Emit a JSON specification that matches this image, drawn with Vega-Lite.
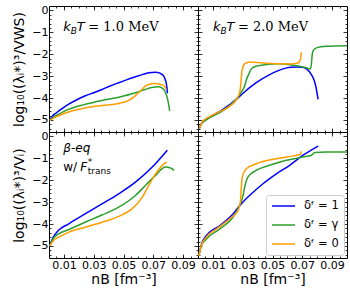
{
"$schema":"https://vega.github.io/schema/vega-lite/v6.json",
"padding":{"left":12,"top":3,"right":0,"bottom":0},
"background":"white",
"columns":2,"spacing":0,"bounds":"flush",
"resolve":{"scale":{"color":"independent"},"legend":{"color":"independent"}},
"datasets":{
"tl":[
{"s":"1","x":0.0005,"y":-5.02},{"s":"1","x":0.002,"y":-4.85},{"s":"1","x":0.005,"y":-4.67},{"s":"1","x":0.009,"y":-4.47},{"s":"1","x":0.013,"y":-4.29},{"s":"1","x":0.018,"y":-4.1},{"s":"1","x":0.024,"y":-3.91},{"s":"1","x":0.03,"y":-3.76},{"s":"1","x":0.0355,"y":-3.61},{"s":"1","x":0.041,"y":-3.45},{"s":"1","x":0.0468,"y":-3.3},{"s":"1","x":0.052,"y":-3.17},{"s":"1","x":0.058,"y":-3.03},{"s":"1","x":0.063,"y":-2.92},{"s":"1","x":0.067,"y":-2.85},{"s":"1","x":0.0715,"y":-2.82},{"s":"1","x":0.074,"y":-2.85},{"s":"1","x":0.076,"y":-2.93},{"s":"1","x":0.077,"y":-3.0},{"s":"1","x":0.078,"y":-3.15},{"s":"1","x":0.079,"y":-3.45},{"s":"1","x":0.0795,"y":-3.78},
{"s":"γ","x":0.0005,"y":-5.02},{"s":"γ","x":0.003,"y":-4.87},{"s":"γ","x":0.0062,"y":-4.75},{"s":"γ","x":0.013,"y":-4.52},{"s":"γ","x":0.0242,"y":-4.29},{"s":"γ","x":0.0355,"y":-4.11},{"s":"γ","x":0.0468,"y":-3.96},{"s":"γ","x":0.058,"y":-3.76},{"s":"γ","x":0.064,"y":-3.62},{"s":"γ","x":0.069,"y":-3.52},{"s":"γ","x":0.0738,"y":-3.49},{"s":"γ","x":0.076,"y":-3.55},{"s":"γ","x":0.077,"y":-3.61},{"s":"γ","x":0.0785,"y":-3.8},{"s":"γ","x":0.0794,"y":-3.99},{"s":"γ","x":0.0803,"y":-4.3},{"s":"γ","x":0.081,"y":-4.59},
{"s":"0","x":0.0005,"y":-5.02},{"s":"0","x":0.003,"y":-4.92},{"s":"0","x":0.0062,"y":-4.82},{"s":"0","x":0.013,"y":-4.64},{"s":"0","x":0.024,"y":-4.45},{"s":"0","x":0.0355,"y":-4.34},{"s":"0","x":0.0468,"y":-4.25},{"s":"0","x":0.0535,"y":-4.11},{"s":"0","x":0.057,"y":-3.95},{"s":"0","x":0.06,"y":-3.76},{"s":"0","x":0.0625,"y":-3.6},{"s":"0","x":0.0648,"y":-3.45},{"s":"0","x":0.0675,"y":-3.37},{"s":"0","x":0.0704,"y":-3.34},{"s":"0","x":0.0749,"y":-3.38},{"s":"0","x":0.077,"y":-3.42},{"s":"0","x":0.0785,"y":-3.6}
],
"tr":[
{"s":"1","x":0.0008,"y":-5.4},{"s":"1","x":0.002,"y":-5.2},{"s":"1","x":0.004,"y":-5.05},{"s":"1","x":0.0078,"y":-4.88},{"s":"1","x":0.0167,"y":-4.52},{"s":"1","x":0.0257,"y":-4.06},{"s":"1","x":0.0302,"y":-3.78},{"s":"1","x":0.0391,"y":-3.3},{"s":"1","x":0.0481,"y":-2.93},{"s":"1","x":0.0571,"y":-2.67},{"s":"1","x":0.062,"y":-2.6},{"s":"1","x":0.066,"y":-2.58},{"s":"1","x":0.07,"y":-2.6},{"s":"1","x":0.0728,"y":-2.67},{"s":"1","x":0.0761,"y":-2.93},{"s":"1","x":0.078,"y":-3.2},{"s":"1","x":0.079,"y":-3.45},{"s":"1","x":0.0806,"y":-4.06},
{"s":"γ","x":0.0008,"y":-5.4},{"s":"γ","x":0.002,"y":-5.22},{"s":"γ","x":0.0055,"y":-5.0},{"s":"γ","x":0.0145,"y":-4.67},{"s":"γ","x":0.0235,"y":-4.21},{"s":"γ","x":0.0284,"y":-3.8},{"s":"γ","x":0.0313,"y":-3.45},{"s":"γ","x":0.0329,"y":-3.08},{"s":"γ","x":0.0345,"y":-2.85},{"s":"γ","x":0.0358,"y":-2.67},{"s":"γ","x":0.0385,"y":-2.56},{"s":"γ","x":0.0414,"y":-2.52},{"s":"γ","x":0.0526,"y":-2.44},{"s":"γ","x":0.0638,"y":-2.5},{"s":"γ","x":0.0728,"y":-2.62},{"s":"γ","x":0.0752,"y":-2.68},{"s":"γ","x":0.0758,"y":-2.6},{"s":"γ","x":0.0763,"y":-2.3},{"s":"γ","x":0.0768,"y":-1.94},{"s":"γ","x":0.078,"y":-1.78},{"s":"γ","x":0.0795,"y":-1.71},{"s":"γ","x":0.0862,"y":-1.64},{"s":"γ","x":0.1,"y":-1.61},
{"s":"0","x":0.0008,"y":-5.4},{"s":"0","x":0.0033,"y":-5.05},{"s":"0","x":0.0078,"y":-4.85},{"s":"0","x":0.0145,"y":-4.62},{"s":"0","x":0.0212,"y":-4.38},{"s":"0","x":0.0257,"y":-4.08},{"s":"0","x":0.0279,"y":-3.76},{"s":"0","x":0.0287,"y":-3.4},{"s":"0","x":0.029,"y":-3.15},{"s":"0","x":0.0293,"y":-2.9},{"s":"0","x":0.0297,"y":-2.7},{"s":"0","x":0.0313,"y":-2.44},{"s":"0","x":0.0346,"y":-2.35},{"s":"0","x":0.0436,"y":-2.4},{"s":"0","x":0.0526,"y":-2.43},{"s":"0","x":0.0615,"y":-2.45},{"s":"0","x":0.0672,"y":-2.4},{"s":"0","x":0.0687,"y":-2.24},{"s":"0","x":0.0694,"y":-1.91}
],
"bl":[
{"s":"1","x":0.0005,"y":-5.0},{"s":"1","x":0.0028,"y":-4.61},{"s":"1","x":0.0062,"y":-4.3},{"s":"1","x":0.013,"y":-4.0},{"s":"1","x":0.0242,"y":-3.54},{"s":"1","x":0.0355,"y":-3.08},{"s":"1","x":0.0468,"y":-2.62},{"s":"1","x":0.058,"y":-2.09},{"s":"1","x":0.0693,"y":-1.4},{"s":"1","x":0.0794,"y":-0.63},
{"s":"γ","x":0.0005,"y":-5.0},{"s":"γ","x":0.003,"y":-4.65},{"s":"γ","x":0.0062,"y":-4.46},{"s":"γ","x":0.013,"y":-4.26},{"s":"γ","x":0.0242,"y":-3.92},{"s":"γ","x":0.0355,"y":-3.59},{"s":"γ","x":0.0468,"y":-3.23},{"s":"γ","x":0.058,"y":-2.7},{"s":"γ","x":0.0647,"y":-2.24},{"s":"γ","x":0.0715,"y":-1.78},{"s":"γ","x":0.0782,"y":-1.4},{"s":"γ","x":0.0816,"y":-1.44},{"s":"γ","x":0.0839,"y":-1.55},
{"s":"0","x":0.0005,"y":-5.0},{"s":"0","x":0.003,"y":-4.75},{"s":"0","x":0.0062,"y":-4.61},{"s":"0","x":0.013,"y":-4.38},{"s":"0","x":0.0242,"y":-4.15},{"s":"0","x":0.0355,"y":-3.92},{"s":"0","x":0.0468,"y":-3.65},{"s":"0","x":0.0557,"y":-3.31},{"s":"0","x":0.0625,"y":-2.78},{"s":"0","x":0.067,"y":-2.24},{"s":"0","x":0.0715,"y":-1.71},{"s":"0","x":0.0772,"y":-1.25},{"s":"0","x":0.079,"y":-1.18}
],
"br":[
{"s":"1","x":0.0006,"y":-5.45},{"s":"1","x":0.0022,"y":-4.95},{"s":"1","x":0.0055,"y":-4.53},{"s":"1","x":0.0145,"y":-4.08},{"s":"1","x":0.0235,"y":-3.54},{"s":"1","x":0.029,"y":-3.08},{"s":"1","x":0.0346,"y":-2.7},{"s":"1","x":0.0436,"y":-2.16},{"s":"1","x":0.0526,"y":-1.71},{"s":"1","x":0.0615,"y":-1.32},{"s":"1","x":0.0705,"y":-0.86},{"s":"1","x":0.0806,"y":-0.44},
{"s":"γ","x":0.0006,"y":-5.45},{"s":"γ","x":0.0022,"y":-5.0},{"s":"γ","x":0.0055,"y":-4.69},{"s":"γ","x":0.0145,"y":-4.23},{"s":"γ","x":0.0235,"y":-3.69},{"s":"γ","x":0.0284,"y":-3.08},{"s":"γ","x":0.0302,"y":-2.7},{"s":"γ","x":0.0313,"y":-2.32},{"s":"γ","x":0.0335,"y":-1.86},{"s":"γ","x":0.0391,"y":-1.55},{"s":"γ","x":0.0481,"y":-1.32},{"s":"γ","x":0.0593,"y":-1.09},{"s":"γ","x":0.0705,"y":-0.94},{"s":"γ","x":0.0761,"y":-0.86},{"s":"γ","x":0.0784,"y":-0.74},{"s":"γ","x":0.0862,"y":-0.71},{"s":"γ","x":0.1,"y":-0.71},
{"s":"0","x":0.0006,"y":-5.45},{"s":"0","x":0.0022,"y":-4.99},{"s":"0","x":0.0055,"y":-4.61},{"s":"0","x":0.0122,"y":-4.23},{"s":"0","x":0.0212,"y":-3.77},{"s":"0","x":0.0268,"y":-3.39},{"s":"0","x":0.0284,"y":-3.0},{"s":"0","x":0.029,"y":-2.39},{"s":"0","x":0.0297,"y":-1.86},{"s":"0","x":0.0324,"y":-1.48},{"s":"0","x":0.0391,"y":-1.25},{"s":"0","x":0.0526,"y":-1.02},{"s":"0","x":0.0638,"y":-0.89},{"s":"0","x":0.0687,"y":-0.83},{"s":"0","x":0.0694,"y":-0.68}
]
},
"concat":[
{"width":149,"height":126,
"resolve":{"axis":{"x":"independent","y":"independent"}},
"layer":[
{"data":{"name":"tl"},"mark":{"type":"line","interpolate":"monotone","clip":true},
"encoding":{"x":{"field":"x","type":"quantitative","scale":{"domain":[0,0.1],"nice":false,"zero":false},"axis":{"orient":"bottom","values":[0.01,0.03,0.05,0.07,0.09],"tickSize":-4,"labels":false,"title":null}},
"y":{"field":"y","type":"quantitative","scale":{"domain":[-5.55,0.2],"nice":false,"zero":false},"axis":{"orient":"left","values":[-5,-4,-3,-2,-1,0],"format":"d","tickSize":-4,"labelPadding":5,"title":"log₁₀((λᵢ*)³/VWS)","titlePadding":5}},
"color":{"field":"s","type":"nominal","scale":{"domain":["1","γ","0"],"range":["#0000ff","#2ca02c","#ff9c00"]},"legend":null}}},
{"data":{"values":[{"x":0.0096,"y":-0.78}]},"mark":{"type":"text","text":""},
"encoding":{"x":{"field":"x","type":"quantitative","scale":{"domain":[0,0.1],"nice":false,"zero":false},"axis":{"orient":"bottom","values":[0.005,0.01,0.015,0.02,0.025,0.03,0.035,0.04,0.045,0.05,0.055,0.06,0.065,0.07,0.075,0.08,0.085,0.09,0.095],"tickSize":-2,"labels":false,"title":null}},
"y":{"field":"y","type":"quantitative","scale":{"domain":[-5.55,0.2],"nice":false,"zero":false},"axis":{"orient":"left","values":[-5.4,-5.2,-4.8,-4.6,-4.4,-4.2,-3.8,-3.6,-3.4,-3.2,-2.8,-2.6,-2.4,-2.2,-1.8,-1.6,-1.4,-1.2,-0.8,-0.6,-0.4,-0.2],"tickSize":-2,"labels":false,"title":null}}}},
{"data":{"values":[{"x":0.0096,"y":-0.78}]},"mark":{"type":"text","text":""},
"encoding":{"x":{"field":"x","type":"quantitative","scale":{"domain":[0,0.1],"nice":false,"zero":false},"axis":{"orient":"top","values":[0.01,0.03,0.05,0.07,0.09],"tickSize":-4,"labels":false,"title":null}},
"y":{"field":"y","type":"quantitative","scale":{"domain":[-5.55,0.2],"nice":false,"zero":false},"axis":{"orient":"right","values":[-5,-4,-3,-2,-1,0],"tickSize":-4,"labels":false,"title":null}}}},
{"data":{"values":[{"x":0.0096,"y":-0.78}]},"mark":{"type":"text","text":""},
"encoding":{"x":{"field":"x","type":"quantitative","scale":{"domain":[0,0.1],"nice":false,"zero":false},"axis":{"orient":"top","values":[0.005,0.01,0.015,0.02,0.025,0.03,0.035,0.04,0.045,0.05,0.055,0.06,0.065,0.07,0.075,0.08,0.085,0.09,0.095],"tickSize":-2,"labels":false,"title":null}},
"y":{"field":"y","type":"quantitative","scale":{"domain":[-5.55,0.2],"nice":false,"zero":false},"axis":{"orient":"right","values":[-5.4,-5.2,-4.8,-4.6,-4.4,-4.2,-3.8,-3.6,-3.4,-3.2,-2.8,-2.6,-2.4,-2.2,-1.8,-1.6,-1.4,-1.2,-0.8,-0.6,-0.4,-0.2],"tickSize":-2,"labels":false,"title":null}}}},
{"data":{"values":[{"x":0.0096,"y":-0.78}]},"mark":{"type":"text","text":"k","font":"DejaVu Sans","fontStyle":"italic","fontSize":13,"align":"left","baseline":"middle","color":"black"},
"encoding":{"x":{"field":"x","type":"quantitative","axis":null},"y":{"field":"y","type":"quantitative","axis":null}}},
{"data":{"values":[{"x":0.0096,"y":-0.78}]},"mark":{"type":"text","text":"B","font":"DejaVu Sans","fontStyle":"italic","fontSize":9,"dx":7.5,"dy":4,"align":"left","baseline":"middle","color":"black"},
"encoding":{"x":{"field":"x","type":"quantitative","axis":null},"y":{"field":"y","type":"quantitative","axis":null}}},
{"data":{"values":[{"x":0.0096,"y":-0.78}]},"mark":{"type":"text","text":"T","font":"DejaVu Sans","fontStyle":"italic","fontSize":13,"dx":13.5,"align":"left","baseline":"middle","color":"black"},
"encoding":{"x":{"field":"x","type":"quantitative","axis":null},"y":{"field":"y","type":"quantitative","axis":null}}},
{"data":{"values":[{"x":0.0096,"y":-0.78}]},"mark":{"type":"text","text":"= 1.0 MeV","font":"DejaVu Serif","fontSize":13,"dx":25,"align":"left","baseline":"middle","color":"black"},
"encoding":{"x":{"field":"x","type":"quantitative","axis":null},"y":{"field":"y","type":"quantitative","axis":null}}}
]},
{"width":149,"height":126,
"resolve":{"axis":{"x":"independent","y":"independent"}},
"layer":[
{"data":{"name":"tr"},"mark":{"type":"line","interpolate":"monotone","clip":true},
"encoding":{"x":{"field":"x","type":"quantitative","scale":{"domain":[0,0.1],"nice":false,"zero":false},"axis":{"orient":"bottom","values":[0.01,0.03,0.05,0.07,0.09],"tickSize":-4,"labels":false,"title":null}},
"y":{"field":"y","type":"quantitative","scale":{"domain":[-5.55,0.2],"nice":false,"zero":false},"axis":{"orient":"left","values":[-5,-4,-3,-2,-1,0],"tickSize":-4,"labels":false,"title":null}},
"color":{"field":"s","type":"nominal","scale":{"domain":["1","γ","0"],"range":["#0000ff","#2ca02c","#ff9c00"]},"legend":null}}},
{"data":{"values":[{"x":0.010,"y":-0.78}]},"mark":{"type":"text","text":""},
"encoding":{"x":{"field":"x","type":"quantitative","scale":{"domain":[0,0.1],"nice":false,"zero":false},"axis":{"orient":"bottom","values":[0.005,0.01,0.015,0.02,0.025,0.03,0.035,0.04,0.045,0.05,0.055,0.06,0.065,0.07,0.075,0.08,0.085,0.09,0.095],"tickSize":-2,"labels":false,"title":null}},
"y":{"field":"y","type":"quantitative","scale":{"domain":[-5.55,0.2],"nice":false,"zero":false},"axis":{"orient":"left","values":[-5.4,-5.2,-4.8,-4.6,-4.4,-4.2,-3.8,-3.6,-3.4,-3.2,-2.8,-2.6,-2.4,-2.2,-1.8,-1.6,-1.4,-1.2,-0.8,-0.6,-0.4,-0.2],"tickSize":-2,"labels":false,"title":null}}}},
{"data":{"values":[{"x":0.010,"y":-0.78}]},"mark":{"type":"text","text":""},
"encoding":{"x":{"field":"x","type":"quantitative","scale":{"domain":[0,0.1],"nice":false,"zero":false},"axis":{"orient":"top","values":[0.01,0.03,0.05,0.07,0.09],"tickSize":-4,"labels":false,"title":null}},
"y":{"field":"y","type":"quantitative","scale":{"domain":[-5.55,0.2],"nice":false,"zero":false},"axis":{"orient":"right","values":[-5,-4,-3,-2,-1,0],"tickSize":-4,"labels":false,"title":null}}}},
{"data":{"values":[{"x":0.010,"y":-0.78}]},"mark":{"type":"text","text":""},
"encoding":{"x":{"field":"x","type":"quantitative","scale":{"domain":[0,0.1],"nice":false,"zero":false},"axis":{"orient":"top","values":[0.005,0.01,0.015,0.02,0.025,0.03,0.035,0.04,0.045,0.05,0.055,0.06,0.065,0.07,0.075,0.08,0.085,0.09,0.095],"tickSize":-2,"labels":false,"title":null}},
"y":{"field":"y","type":"quantitative","scale":{"domain":[-5.55,0.2],"nice":false,"zero":false},"axis":{"orient":"right","values":[-5.4,-5.2,-4.8,-4.6,-4.4,-4.2,-3.8,-3.6,-3.4,-3.2,-2.8,-2.6,-2.4,-2.2,-1.8,-1.6,-1.4,-1.2,-0.8,-0.6,-0.4,-0.2],"tickSize":-2,"labels":false,"title":null}}}},
{"data":{"values":[{"x":0.010,"y":-0.78}]},"mark":{"type":"text","text":"k","font":"DejaVu Sans","fontStyle":"italic","fontSize":13,"align":"left","baseline":"middle","color":"black"},
"encoding":{"x":{"field":"x","type":"quantitative","axis":null},"y":{"field":"y","type":"quantitative","axis":null}}},
{"data":{"values":[{"x":0.010,"y":-0.78}]},"mark":{"type":"text","text":"B","font":"DejaVu Sans","fontStyle":"italic","fontSize":9,"dx":7.5,"dy":4,"align":"left","baseline":"middle","color":"black"},
"encoding":{"x":{"field":"x","type":"quantitative","axis":null},"y":{"field":"y","type":"quantitative","axis":null}}},
{"data":{"values":[{"x":0.010,"y":-0.78}]},"mark":{"type":"text","text":"T","font":"DejaVu Sans","fontStyle":"italic","fontSize":13,"dx":13.5,"align":"left","baseline":"middle","color":"black"},
"encoding":{"x":{"field":"x","type":"quantitative","axis":null},"y":{"field":"y","type":"quantitative","axis":null}}},
{"data":{"values":[{"x":0.010,"y":-0.78}]},"mark":{"type":"text","text":"= 2.0 MeV","font":"DejaVu Serif","fontSize":13,"dx":25,"align":"left","baseline":"middle","color":"black"},
"encoding":{"x":{"field":"x","type":"quantitative","axis":null},"y":{"field":"y","type":"quantitative","axis":null}}}
]},
{"width":149,"height":126,
"resolve":{"axis":{"x":"independent","y":"independent"}},
"layer":[
{"data":{"name":"bl"},"mark":{"type":"line","interpolate":"monotone","clip":true},
"encoding":{"x":{"field":"x","type":"quantitative","scale":{"domain":[0,0.1],"nice":false,"zero":false},"axis":{"orient":"bottom","values":[0.01,0.03,0.05,0.07,0.09],"format":".2f","tickSize":-4,"labelPadding":5,"title":"nB [fm⁻³]","titlePadding":2}},
"y":{"field":"y","type":"quantitative","scale":{"domain":[-5.55,0.2],"nice":false,"zero":false},"axis":{"orient":"left","values":[-5,-4,-3,-2,-1,0],"format":"d","tickSize":-4,"labelPadding":5,"title":"log₁₀((λᵢ*)³/Vᵢ)","titlePadding":5}},
"color":{"field":"s","type":"nominal","scale":{"domain":["1","γ","0"],"range":["#0000ff","#2ca02c","#ff9c00"]},"legend":null}}},
{"data":{"values":[{"x":0.0096,"y":-0.55}]},"mark":{"type":"text","text":""},
"encoding":{"x":{"field":"x","type":"quantitative","scale":{"domain":[0,0.1],"nice":false,"zero":false},"axis":{"orient":"bottom","values":[0.005,0.01,0.015,0.02,0.025,0.03,0.035,0.04,0.045,0.05,0.055,0.06,0.065,0.07,0.075,0.08,0.085,0.09,0.095],"tickSize":-2,"labels":false,"title":null}},
"y":{"field":"y","type":"quantitative","scale":{"domain":[-5.55,0.2],"nice":false,"zero":false},"axis":{"orient":"left","values":[-5.4,-5.2,-4.8,-4.6,-4.4,-4.2,-3.8,-3.6,-3.4,-3.2,-2.8,-2.6,-2.4,-2.2,-1.8,-1.6,-1.4,-1.2,-0.8,-0.6,-0.4,-0.2],"tickSize":-2,"labels":false,"title":null}}}},
{"data":{"values":[{"x":0.0096,"y":-0.55}]},"mark":{"type":"text","text":""},
"encoding":{"x":{"field":"x","type":"quantitative","scale":{"domain":[0,0.1],"nice":false,"zero":false},"axis":{"orient":"top","values":[0.01,0.03,0.05,0.07,0.09],"tickSize":-4,"labels":false,"title":null}},
"y":{"field":"y","type":"quantitative","scale":{"domain":[-5.55,0.2],"nice":false,"zero":false},"axis":{"orient":"right","values":[-5,-4,-3,-2,-1,0],"tickSize":-4,"labels":false,"title":null}}}},
{"data":{"values":[{"x":0.0096,"y":-0.55}]},"mark":{"type":"text","text":""},
"encoding":{"x":{"field":"x","type":"quantitative","scale":{"domain":[0,0.1],"nice":false,"zero":false},"axis":{"orient":"top","values":[0.005,0.01,0.015,0.02,0.025,0.03,0.035,0.04,0.045,0.05,0.055,0.06,0.065,0.07,0.075,0.08,0.085,0.09,0.095],"tickSize":-2,"labels":false,"title":null}},
"y":{"field":"y","type":"quantitative","scale":{"domain":[-5.55,0.2],"nice":false,"zero":false},"axis":{"orient":"right","values":[-5.4,-5.2,-4.8,-4.6,-4.4,-4.2,-3.8,-3.6,-3.4,-3.2,-2.8,-2.6,-2.4,-2.2,-1.8,-1.6,-1.4,-1.2,-0.8,-0.6,-0.4,-0.2],"tickSize":-2,"labels":false,"title":null}}}},
{"data":{"values":[{"x":0.0096,"y":-0.55}]},"mark":{"type":"text","text":"β-eq","font":"DejaVu Sans","fontStyle":"italic","fontSize":12,"align":"left","baseline":"middle","color":"black"},
"encoding":{"x":{"field":"x","type":"quantitative","axis":null},"y":{"field":"y","type":"quantitative","axis":null}}},
{"data":{"values":[{"x":0.0096,"y":-1.38}]},"mark":{"type":"text","text":"w/","font":"DejaVu Sans","fontSize":12,"align":"left","baseline":"middle","color":"black"},
"encoding":{"x":{"field":"x","type":"quantitative","axis":null},"y":{"field":"y","type":"quantitative","axis":null}}},
{"data":{"values":[{"x":0.0096,"y":-1.38}]},"mark":{"type":"text","text":"F","font":"DejaVu Sans","fontStyle":"italic","fontSize":12,"dx":17,"align":"left","baseline":"middle","color":"black"},
"encoding":{"x":{"field":"x","type":"quantitative","axis":null},"y":{"field":"y","type":"quantitative","axis":null}}},
{"data":{"values":[{"x":0.0096,"y":-1.38}]},"mark":{"type":"text","text":"*","font":"DejaVu Sans","fontSize":9,"dx":24.5,"dy":-5,"align":"left","baseline":"middle","color":"black"},
"encoding":{"x":{"field":"x","type":"quantitative","axis":null},"y":{"field":"y","type":"quantitative","axis":null}}},
{"data":{"values":[{"x":0.0096,"y":-1.38}]},"mark":{"type":"text","text":"trans","font":"DejaVu Sans","fontSize":9,"dx":24.5,"dy":4,"align":"left","baseline":"middle","color":"black"},
"encoding":{"x":{"field":"x","type":"quantitative","axis":null},"y":{"field":"y","type":"quantitative","axis":null}}}
]},
{"width":149,"height":126,
"resolve":{"axis":{"x":"independent","y":"independent"}},
"layer":[
{"data":{"name":"br"},"mark":{"type":"line","interpolate":"monotone","clip":true},
"encoding":{"x":{"field":"x","type":"quantitative","scale":{"domain":[0,0.1],"nice":false,"zero":false},"axis":{"orient":"bottom","values":[0.01,0.03,0.05,0.07,0.09],"format":".2f","tickSize":-4,"labelPadding":5,"title":"nB [fm⁻³]","titlePadding":2}},
"y":{"field":"y","type":"quantitative","scale":{"domain":[-5.55,0.2],"nice":false,"zero":false},"axis":{"orient":"left","values":[-5,-4,-3,-2,-1,0],"tickSize":-4,"labels":false,"title":null}},
"color":{"field":"s","type":"nominal","scale":{"domain":["1","γ","0"],"range":["#0000ff","#2ca02c","#ff9c00"]},
"legend":{"orient":"bottom-right","offset":3,"title":null,"labelExpr":"'δᶠ = ' + datum.label","symbolType":"stroke","symbolSize":529,"symbolStrokeWidth":1.5,"clipHeight":12,"rowPadding":7,"labelFontSize":11.5,"labelFont":"DejaVu Sans","labelColor":"black","labelOffset":8,"padding":5,"fillColor":"rgba(255,255,255,0.8)","strokeColor":"#cccccc","cornerRadius":3}}}},
{"data":{"values":[{"x":0.05,"y":-3}]},"mark":{"type":"text","text":""},
"encoding":{"x":{"field":"x","type":"quantitative","scale":{"domain":[0,0.1],"nice":false,"zero":false},"axis":{"orient":"bottom","values":[0.005,0.01,0.015,0.02,0.025,0.03,0.035,0.04,0.045,0.05,0.055,0.06,0.065,0.07,0.075,0.08,0.085,0.09,0.095],"tickSize":-2,"labels":false,"title":null}},
"y":{"field":"y","type":"quantitative","scale":{"domain":[-5.55,0.2],"nice":false,"zero":false},"axis":{"orient":"left","values":[-5.4,-5.2,-4.8,-4.6,-4.4,-4.2,-3.8,-3.6,-3.4,-3.2,-2.8,-2.6,-2.4,-2.2,-1.8,-1.6,-1.4,-1.2,-0.8,-0.6,-0.4,-0.2],"tickSize":-2,"labels":false,"title":null}}}},
{"data":{"values":[{"x":0.05,"y":-3}]},"mark":{"type":"text","text":""},
"encoding":{"x":{"field":"x","type":"quantitative","scale":{"domain":[0,0.1],"nice":false,"zero":false},"axis":{"orient":"top","values":[0.01,0.03,0.05,0.07,0.09],"tickSize":-4,"labels":false,"title":null}},
"y":{"field":"y","type":"quantitative","scale":{"domain":[-5.55,0.2],"nice":false,"zero":false},"axis":{"orient":"right","values":[-5,-4,-3,-2,-1,0],"tickSize":-4,"labels":false,"title":null}}}},
{"data":{"values":[{"x":0.05,"y":-3}]},"mark":{"type":"text","text":""},
"encoding":{"x":{"field":"x","type":"quantitative","scale":{"domain":[0,0.1],"nice":false,"zero":false},"axis":{"orient":"top","values":[0.005,0.01,0.015,0.02,0.025,0.03,0.035,0.04,0.045,0.05,0.055,0.06,0.065,0.07,0.075,0.08,0.085,0.09,0.095],"tickSize":-2,"labels":false,"title":null}},
"y":{"field":"y","type":"quantitative","scale":{"domain":[-5.55,0.2],"nice":false,"zero":false},"axis":{"orient":"right","values":[-5.4,-5.2,-4.8,-4.6,-4.4,-4.2,-3.8,-3.6,-3.4,-3.2,-2.8,-2.6,-2.4,-2.2,-1.8,-1.6,-1.4,-1.2,-0.8,-0.6,-0.4,-0.2],"tickSize":-2,"labels":false,"title":null}}}}
]}
],
"config":{
"view":{"stroke":"black","strokeWidth":1},
"axis":{"domain":false,"grid":false,"tickColor":"black","tickWidth":0.8,"labelColor":"black","titleColor":"black","labelFont":"DejaVu Sans","labelFontSize":11,"titleFont":"DejaVu Sans","titleFontSize":14,"titleFontWeight":"normal","labelOverlap":false,"labelFlush":false},
"line":{"strokeWidth":1.5}
}
}
